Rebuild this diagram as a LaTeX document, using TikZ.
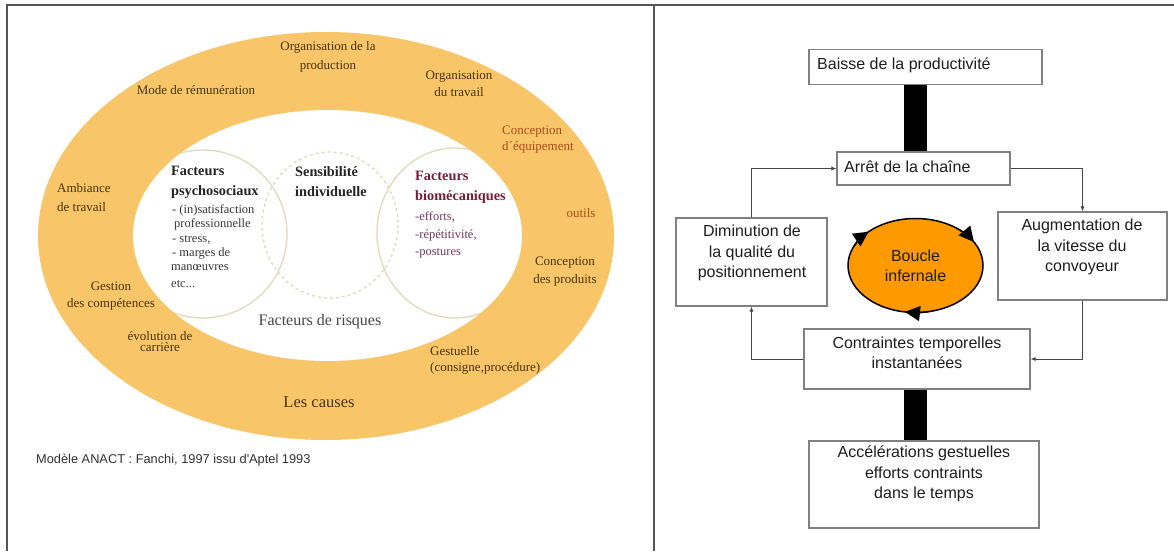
\documentclass[tikz,border=0pt]{standalone}
\usepackage{fontspec}
\setmainfont{Liberation Serif}
\newfontfamily\arialf{Liberation Sans}
\usetikzlibrary{shapes.geometric,arrows.meta,calc}
\pgfdeclarelayer{bg}
\pgfsetlayers{bg,main}
\definecolor{band}{RGB}{248,197,104}
\definecolor{labbrown}{RGB}{72,52,18}
\definecolor{rust}{RGB}{168,78,30}
\definecolor{risk}{RGB}{70,70,70}
\definecolor{ttlgray}{RGB}{35,35,35}
\definecolor{subgray}{RGB}{55,55,55}
\definecolor{maroon}{RGB}{120,28,55}
\definecolor{mauve}{RGB}{118,55,85}
\definecolor{circ}{RGB}{226,216,190}
\definecolor{capgray}{RGB}{50,50,50}
\definecolor{framegray}{RGB}{85,85,85}
\definecolor{boxgray}{RGB}{128,128,128}
\definecolor{linegray}{RGB}{70,70,70}
\definecolor{boucleor}{RGB}{255,153,0}
\definecolor{txtdark}{RGB}{30,30,30}
\tikzset{
  lab/.style={font=\fontsize{13}{17}\selectfont, text=labbrown, align=center, inner sep=0pt},
  ttl/.style={font=\bfseries\fontsize{14.3}{20}\selectfont, text=ttlgray, align=left, inner sep=0pt, anchor=west},
  sublist/.style={font=\fontsize{12.5}{14.3}\selectfont, text=subgray, align=left, inner sep=0pt, anchor=west},
  rbox/.style={draw=boxgray, line width=1.1pt, fill=white, inner sep=0pt},
  rtxt/.style={font=\arialf\fontsize{16}{20.3}\selectfont, align=center, inner sep=0pt, text=txtdark},
  conn/.style={draw=linegray, line width=0.8pt, -{Latex[length=5pt,width=4pt]}},
  blackbar/.style={line width=23pt, draw=black},
  frameline/.style={draw=framegray, line width=1.5pt},
  btip/.style={draw=black, line width=1.5pt, -{Triangle[length=15pt,width=15pt]}},
  ring/.style={draw=circ, line width=1.3pt},
}
\begin{document}
\begin{tikzpicture}[x=1pt,y=-1pt]
\useasboundingbox (0,0) rectangle (1174,551);
\begin{pgfonlayer}{bg}
\fill[white] (0,0) rectangle (1174,551);
\end{pgfonlayer}

% frame
\draw[frameline] (7,551) -- (7,5) -- (1174,5);
\draw[frameline] (654,5) -- (654,551);

% ---------------- left panel ----------------
\fill[band] (326,236) ellipse [x radius=288, y radius=204];
\fill[white] (327.5,235.5) ellipse [x radius=194.5, y radius=125.5];
\begin{scope}
  \clip (327.5,235.5) ellipse [x radius=194.5, y radius=125.5];
  \draw[ring] (203,234) circle [radius=84];
  \draw[ring, dashed] (330,225) ellipse [x radius=68, y radius=73];
  \draw[ring] (455,233) ellipse [x radius=78, y radius=85];
\end{scope}

\node[lab, font=\fontsize{13}{19}\selectfont] (orgprod) at (328,57) {Organisation de la\\production};
\node[lab] (moderem) at (196,90) {Mode de rémunération};
\node[lab] (orgtrav) at (459,84) {Organisation\\du travail};
\node[lab, text=rust, align=left, anchor=west, font=\fontsize{13}{16}\selectfont] (conceq) at (502,140) {Conception\\d´équipement};
\node[lab, align=left, anchor=west, font=\fontsize{13}{19}\selectfont] (amb) at (57,198) {Ambiance\\de travail};
\node[lab, text=rust] (outils) at (581,213) {outils};
\node[lab, font=\fontsize{13}{18}\selectfont] (concprod) at (565,272) {Conception\\des produits};
\node[lab] (gestcomp) at (111,296) {Gestion\\des compétences};
\node[lab, font=\fontsize{13}{11}\selectfont] (evol) at (160,342) {évolution de\\carrière};
\node[lab, align=left, anchor=west, font=\fontsize{13}{16}\selectfont] (gestu) at (430,360) {Gestuelle\\(consigne,procédure)};
\node[lab, font=\fontsize{16.5}{19}\selectfont] (causes) at (319,402) {Les causes};
\node[lab, text=risk, font=\fontsize{16}{19}\selectfont] (risques) at (320,322) {Facteurs de risques};

\node[ttl] (psyT) at (171,182) {Facteurs\\psychosociaux};
\node[sublist] (psyL) at (172,232) {- (in)satisfaction\\\hspace*{2pt}professionnelle\\- stress,\\- marges de};
\node[sublist] (psyM) at (171,268) {manœuvres};
\node[sublist] (psyE) at (171,284) {etc...};
\node[ttl] (sensT) at (295,182) {Sensibilité\\individuelle};
\node[ttl, text=maroon] (bioT) at (415,187) {Facteurs\\biomécaniques};
\node[sublist, text=mauve, font=\fontsize{12.5}{17.5}\selectfont] (bioL) at (415,235) {-efforts,\\-répétitivité,\\-postures};

\node[anchor=west, inner sep=0pt, font=\arialf\fontsize{12.8}{15}\selectfont, text=capgray] (cap) at (36,460) {Modèle ANACT : Fanchi, 1997 issu d'Aptel 1993};

% ---------------- right panel ----------------
\node[rbox, minimum width=233, minimum height=35] (baisse) at (925.5,67) {};
\node[rbox, minimum width=173, minimum height=33] (arret) at (923.5,168.5) {};
\node[rbox, minimum width=151, minimum height=88] (dimin) at (751.5,262) {};
\node[rbox, minimum width=169, minimum height=88] (augm) at (1082.5,256) {};
\node[rbox, minimum width=226, minimum height=60] (contr) at (917,359) {};
\node[rbox, minimum width=230, minimum height=87] (accel) at (924,484.5) {};
\node[ellipse, draw=black, line width=1.5pt, fill=boucleor, minimum width=135, minimum height=94, inner sep=0pt,
      font=\arialf\fontsize{16}{20}\selectfont, text=txtdark, align=center] (boucle) at (915.5,265.5) {Boucle\\infernale};

\node[rtxt, anchor=west] (baisseT) at (817,65) {Baisse de la productivité};
\node[rtxt, anchor=west] (arretT) at (844,167) {Arrêt de la chaîne};
\node[rtxt] (diminT) at (752,253) {Diminution de\\la qualité du\\positionnement};
\node[rtxt] (augmT) at (1082,247) {Augmentation de\\la vitesse du\\convoyeur};
\node[rtxt] (contrT) at (917,353) {Contraintes temporelles\\instantanées};
\node[rtxt] (accelT) at (924,474) {Accélérations gestuelles\\efforts contraints\\dans le temps};

\coordinate (bx) at (915.5,0);
\begin{pgfonlayer}{bg}
\draw[blackbar] (baisse.south -| bx) -- (arret.north -| bx);
\draw[blackbar] (contr.south -| bx) -- (accel.north -| bx);
\end{pgfonlayer}

\draw[conn] (dimin.north) |- (arret.west);
\draw[conn] (arret.east) -| (augm.north);
\draw[conn] (augm.south) |- (contr.east);
\draw[conn] (contr.west) -| (dimin.south);

\draw[btip] ([shift={(204:67.5 and 47)}]boucle.center) arc[start angle=204, end angle=226, x radius=67.5, y radius=47];
\draw[btip] ([shift={(308:67.5 and 47)}]boucle.center) arc[start angle=308, end angle=330, x radius=67.5, y radius=47];
\draw[btip] ([shift={(78:67.5 and 47)}]boucle.center) arc[start angle=78, end angle=99, x radius=67.5, y radius=47];
\end{tikzpicture}
\end{document}
